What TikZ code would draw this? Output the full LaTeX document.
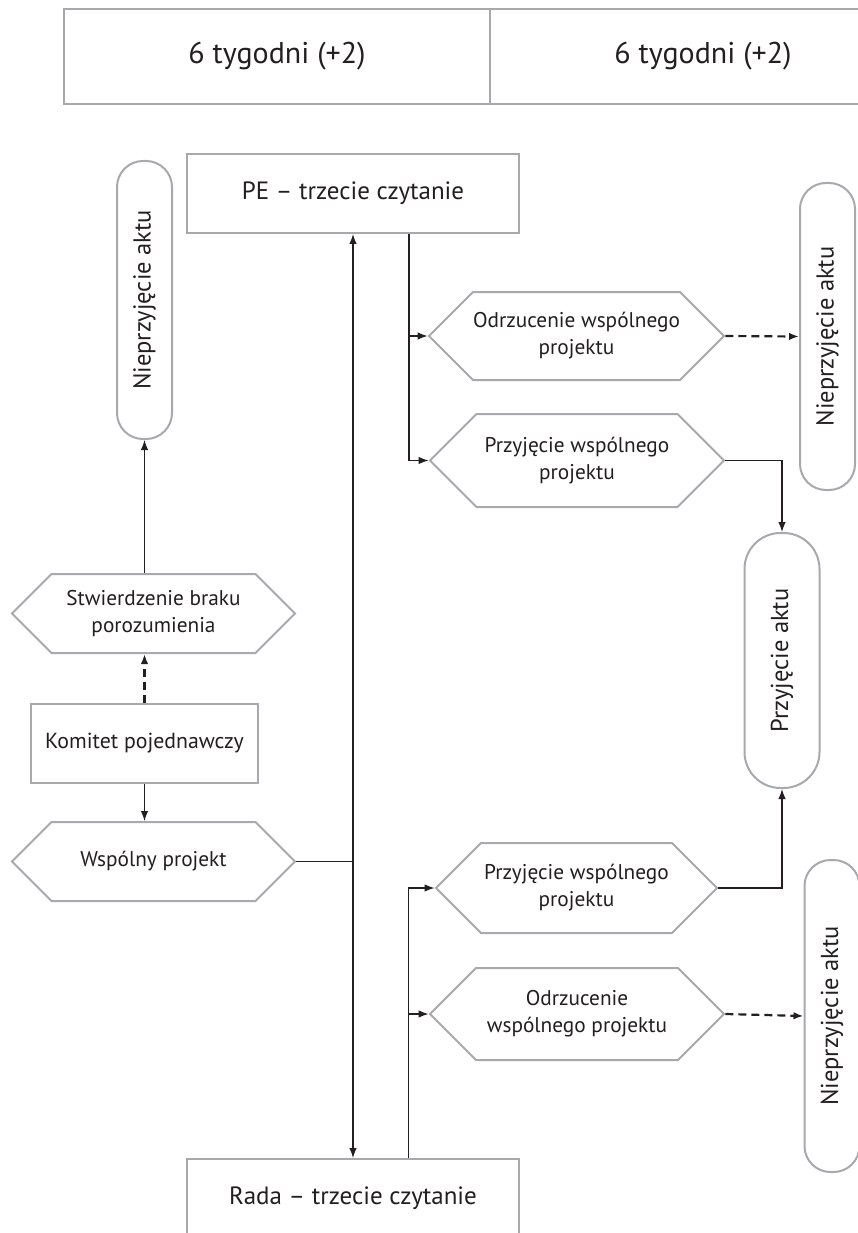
\documentclass[tikz,border=0pt]{standalone}
\usepackage{graphicx}
\usepackage{fontspec}
\setmainfont{PT Sans}
\usetikzlibrary{positioning,shapes.symbols,arrows.meta}
\definecolor{framegray}{HTML}{A7A9AC}
\definecolor{ink}{HTML}{231F20}

\begin{document}
\begin{tikzpicture}[x=1pt, y=-1pt, >={Latex[length=10pt,width=7.5pt]},
    every node/.style = {text=ink},
    cell/.style = {draw=framegray, line width=2pt, minimum width=426pt, minimum height=95pt, font=\fontsize{30}{34}\selectfont},
    box/.style = {draw=framegray, line width=2pt, minimum height=79pt, inner sep=0pt, font=\fontsize{25}{30}\selectfont},
    hexa/.style = {draw=framegray, line width=2pt, signal, signal to=east and west, signal pointer angle=90, inner sep=0pt, align=center, font=\fontsize{21.3}{27}\selectfont},
    pill/.style = {draw=framegray, line width=2pt, rounded corners=26pt, minimum width=55pt, inner sep=0pt, font=\fontsize{24.5}{28}\selectfont},
    conn/.style = {draw=ink, line width=1.3pt},
    dashline/.style = {dash pattern=on 8pt off 5pt, line width=2.2pt}]
    \useasboundingbox (0,0) rectangle (858,1233);
    \fill[white] (0,0) rectangle (858,1233);
    \clip (0,0) rectangle (858,1233);

    \node[cell] (cellA) at (277,56.5) {6 tygodni (+2)};
    \node[cell] (cellB) at (703,56.5) {6 tygodni (+2)};

    \node[box, minimum width=332pt] (pe) at (353,193.5) {PE -- trzecie czytanie};
    \node[box, minimum width=332pt] (rada) [below=924pt of pe] {Rada -- trzecie czytanie};

    \node[pill, minimum height=278pt] (nie1) at (144.5,300) {\rotatebox{90}{Nieprzyjęcie aktu}};
    \node[hexa, minimum width=283pt, minimum height=79pt] (stw) at (153.5,613.5) {Stwierdzenie braku\\porozumienia};
    \node[box, minimum width=227pt, font=\fontsize{21.8}{27}\selectfont] (kom) at (144.5,743.5) {Komitet pojednawczy};
    \node[hexa, minimum width=283pt, minimum height=79pt] (wsp) at (153.5,861.5) {Wspólny projekt};

    \node[hexa, minimum width=283pt, minimum height=88pt] (h1) at (576.5,336) {Odrzucenie wspólnego\\projektu};
    \node[hexa, minimum width=294pt, minimum height=93pt] (h2) at (577,460.5) {Przyjęcie wspólnego\\projektu};
    \node[hexa, minimum width=281pt, minimum height=90pt] (h3) at (576.5,888) {Przyjęcie wspólnego\\projektu};
    \node[hexa, minimum width=294pt, minimum height=92pt] (h4) at (577,1014) {Odrzucenie\\wspólnego projektu};

    \node[pill, minimum height=307pt] (nie2) at (827.5,336.5) {\rotatebox{90}{Nieprzyjęcie aktu}};
    \node[pill, minimum width=75pt, rounded corners=36pt, minimum height=255pt] (prz) at (782,660.5) {\rotatebox{90}{Przyjęcie aktu}};
    \node[pill, minimum height=312pt] (nie3) at (832,1016) {\rotatebox{90}{Nieprzyjęcie aktu}};

    \coordinate (peout) at ([xshift=56pt]pe.south);
    \coordinate (radaout) at ([xshift=55.5pt]rada.north);

    \draw[conn, <->] (pe.south) -- (rada.north);
    \draw[conn] (wsp.east) -- (wsp.east -| pe.south);
    \draw[conn, ->] (peout) |- (h2.west);
    \draw[conn, ->] (peout |- h1.west) -- (h1.west);
    \draw[conn, dashline, ->] (h1.east) -- (nie2.west);
    \draw[conn, ->] (h2.east) -| (prz.north);
    \draw[conn, ->] (radaout) |- (h3.west);
    \draw[conn, ->] (radaout |- h4.west) -- (h4.west);
    \draw[conn, ->] (h3.east) -| (prz.south);
    \draw[conn, dashline, ->] (h4.east) -- (nie3.west);
    \draw[conn, ->] (stw.north -| nie1.south) -- (nie1.south);
    \draw[conn, dashline, ->] (kom.north) -- (kom.north |- stw.south);
    \draw[conn, ->] (kom.south) -- (kom.south |- wsp.north);
\end{tikzpicture}
\end{document}
